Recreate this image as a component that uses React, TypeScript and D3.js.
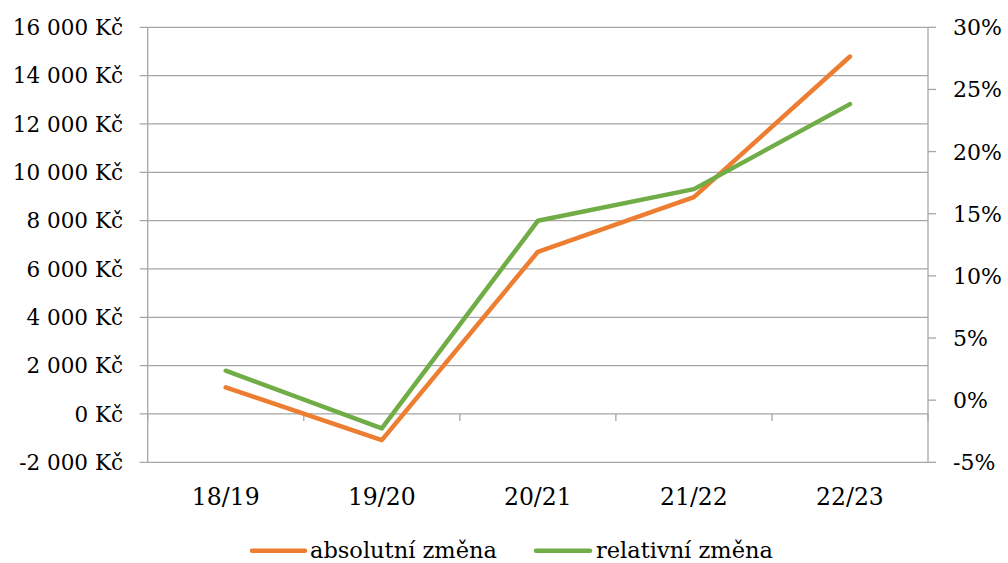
import React from "react";
import * as d3 from "d3";

const categories = ["18/19", "19/20", "20/21", "21/22", "22/23"];
const absoluteChange = [1100, -1080, 6710, 8970, 14790];
const relativeChange = [2.37, -2.27, 14.43, 16.98, 23.82];
const leftTicks = [-2000, 0, 2000, 4000, 6000, 8000, 10000, 12000, 14000, 16000];
const rightTicks = [-5, 0, 5, 10, 15, 20, 25, 30];
const seriesNames = ["absolutní změna", "relativní změna"];
const seriesColors = ["#ED7D31", "#70AD47"];

const W = 1008;
const H = 563;
const FONT = "'DejaVu Serif', serif";

const fmtKc = (v: number) => {
  const s = Math.abs(v).toString().replace(/\B(?=(\d{3})+(?!\d))/g, "\u00a0");
  return (v < 0 ? "-" : "") + s + "\u00a0Kč";
};

export default function App() {
  const left = 147.7;
  const right = 928;
  const top = 27.3;
  const bottom = 462.3;
  const x = d3.scaleBand<string>().domain(categories).range([left, right]);
  const yL = d3.scaleLinear().domain([-2000, 16000]).range([bottom, top]);
  const yR = d3.scaleLinear().domain([-5, 30]).range([bottom, top]);
  const cx = (c: string) => (x(c) as number) + x.bandwidth() / 2;

  const lineL = d3
    .line<number>()
    .x((_, i) => cx(categories[i]))
    .y((d) => yL(d));
  const lineR = d3
    .line<number>()
    .x((_, i) => cx(categories[i]))
    .y((d) => yR(d));

  const grid = "#A6A6A6";
  const fs = 21.5;
  const legendPos = [
    { x1: 252, x2: 305, tx: 310 },
    { x1: 536, x2: 590, tx: 596 },
  ];

  return (
    <svg
      width={W}
      height={H}
      style={{ position: "absolute", left: 0, top: 0, background: "#fff" }}
      fontFamily={FONT}
    >
      <rect width={W} height={H} fill="#fff" />
      {leftTicks.map((t) => (
        <g key={"l" + t}>
          <line x1={left - 8} x2={right} y1={yL(t)} y2={yL(t)} stroke={grid} strokeWidth={1.3} />
          <text x={123} y={yL(t)} dy="0.36em" textAnchor="end" fontSize={fs} fill="#000">
            {fmtKc(t)}
          </text>
        </g>
      ))}
      <line x1={left} x2={left} y1={top} y2={bottom} stroke={grid} strokeWidth={1.3} />
      <line x1={right} x2={right} y1={top} y2={bottom} stroke={grid} strokeWidth={1.3} />
      {rightTicks.map((t) => (
        <g key={"r" + t}>
          <line x1={right} x2={right + 8} y1={yR(t)} y2={yR(t)} stroke={grid} strokeWidth={1.3} />
          <text x={953} y={yR(t)} dy="0.36em" textAnchor="start" fontSize={22} fill="#000">
            {t + "%"}
          </text>
        </g>
      ))}
      {categories.map((c, i) => (
        <g key={c}>
          <line
            x1={x(c) as number}
            x2={x(c) as number}
            y1={yL(0)}
            y2={yL(0) + 7}
            stroke={grid}
            strokeWidth={1.3}
          />
          {i === categories.length - 1 && (
            <line x1={right} x2={right} y1={yL(0)} y2={yL(0) + 7} stroke={grid} strokeWidth={1.3} />
          )}
          <text x={cx(c)} y={505} textAnchor="middle" fontSize={23.5} fill="#000">
            {c}
          </text>
        </g>
      ))}
      <path
        d={lineL(absoluteChange) || ""}
        fill="none"
        stroke={seriesColors[0]}
        strokeWidth={4.5}
        strokeLinecap="round"
        strokeLinejoin="round"
      />
      <path
        d={lineR(relativeChange) || ""}
        fill="none"
        stroke={seriesColors[1]}
        strokeWidth={4.5}
        strokeLinecap="round"
        strokeLinejoin="round"
      />
      {seriesNames.map((n, i) => {
        const p = legendPos[i];
        return (
          <g key={n}>
            <line
              x1={p.x1}
              x2={p.x2}
              y1={550.7}
              y2={550.7}
              stroke={seriesColors[i]}
              strokeWidth={4.5}
              strokeLinecap="round"
            />
            <text x={p.tx} y={558} fontSize={22.5} fill="#000">
              {n}
            </text>
          </g>
        );
      })}
    </svg>
  );
}
